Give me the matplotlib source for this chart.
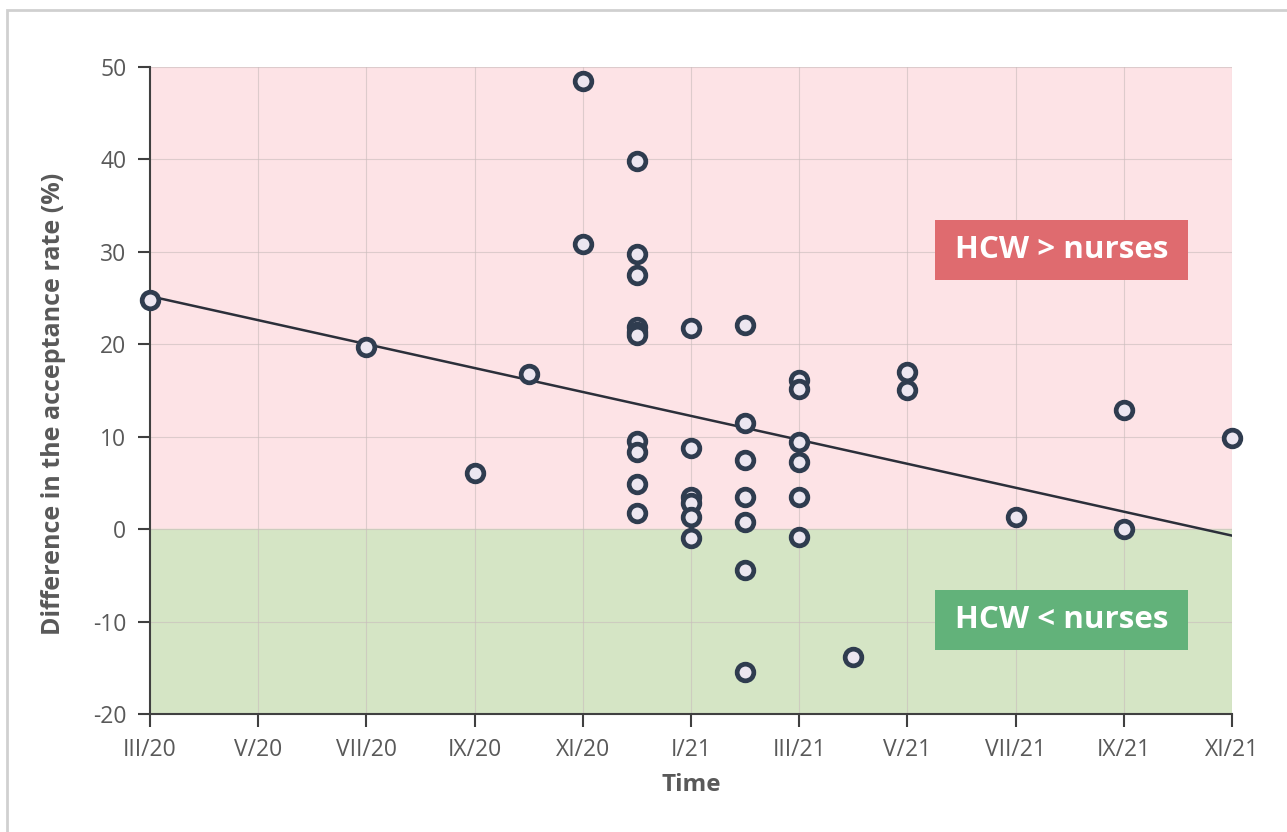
import numpy as np
import matplotlib.pyplot as plt
from matplotlib.patches import Rectangle

plt.rcParams['font.family'] = ['Open Sans', 'DejaVu Sans']
plt.rcParams['axes.unicode_minus'] = False

# months counted from III/20 (0) to XI/21 (20)
month = [0, 4, 6, 7, 8, 8,
         9, 9, 9, 9, 9, 9, 9, 9, 9, 9,
         10, 10, 10, 10, 10, 10,
         11, 11, 11, 11, 11, 11, 11,
         12, 12, 12, 12, 12, 12,
         13, 14, 14, 16, 18, 18, 20]
diff = [24.8, 19.7, 6.1, 16.8, 48.5, 30.8,
        39.8, 29.8, 27.5, 21.9, 21.3, 21.0, 9.5, 8.3, 4.9, 1.7,
        21.8, 8.8, 3.5, 2.8, 1.3, -1.0,
        22.1, 11.5, 7.5, 3.5, 0.8, -4.4, -15.5,
        16.1, 15.2, 9.4, 7.3, 3.5, -0.8,
        -13.8, 17.0, 15.1, 1.3, 12.9, 0.0, 9.9]
tick_pos = [0, 2, 4, 6, 8, 10, 12, 14, 16, 18, 20]
tick_labels = ['III/20', 'V/20', 'VII/20', 'IX/20', 'XI/20', 'I/21',
               'III/21', 'V/21', 'VII/21', 'IX/21', 'XI/21']
trend_x = [0, 20]
trend_y = [25.2, -0.7]

fig = plt.figure(figsize=(12.87, 8.32), dpi=100)
ax = fig.add_axes([150 / 1287, 1 - 714 / 832, 1082 / 1287, 647 / 832])

# frame around the whole figure (only top and left edges visible)
fig.patches.append(Rectangle((7 / 1287, -0.05), 1.1, 1 - 10 / 832 + 0.05,
                             transform=fig.transFigure, fill=False,
                             edgecolor='#d0d0d0', linewidth=2))

ax.set_xlim(0, 20)
ax.set_ylim(-20, 50)
ax.axhspan(0, 50, color='#fde3e6', zorder=0)
ax.axhspan(-20, 0, color='#d5e5c5', zorder=0)

for y in range(-10, 51, 10):
    ax.axhline(y, color='#c9bcbc', linewidth=0.8, alpha=0.6, zorder=1)
for x in tick_pos[1:]:
    ax.axvline(x, color='#c9bcbc', linewidth=0.8, alpha=0.6, zorder=1)

ax.plot(trend_x, trend_y, color='#2b2f3a', linewidth=1.8, zorder=2)
ax.plot(month, diff, linestyle='none', marker='o', markersize=12,
        markerfacecolor='#ece6f0', markeredgecolor='#2f3c4f',
        markeredgewidth=3.4, zorder=3, clip_on=False)

# label boxes
ax.add_patch(Rectangle((14.51, 26.95), 4.68, 6.5, facecolor='#df6b6f',
                       edgecolor='none', zorder=4))
ax.add_patch(Rectangle((14.51, -13.1), 4.68, 6.5, facecolor='#62b27a',
                       edgecolor='none', zorder=4))
ax.text(16.85, 30.2, 'HCW > nurses', color='white', fontsize=22.5,
        fontweight='bold', ha='center', va='center', zorder=5)
ax.text(16.85, -9.85, 'HCW < nurses', color='white', fontsize=22.5,
        fontweight='bold', ha='center', va='center', zorder=5)

ax.set_xticks(tick_pos)
ax.set_xticklabels(tick_labels)
ax.set_yticks(range(-20, 51, 10))
ax.tick_params(axis='both', direction='out', length=9, width=1.5,
               color='#404040', labelsize=16.5, labelcolor='#595959', pad=8)
for s in ['top', 'right']:
    ax.spines[s].set_visible(False)
for s in ['left', 'bottom']:
    ax.spines[s].set_color('#404040')
    ax.spines[s].set_linewidth(1.5)

ax.set_xlabel('Time', fontsize=17.5, fontweight='bold', color='#595959', labelpad=8)
ax.set_ylabel('Difference in the acceptance rate (%)', fontsize=18,
              fontweight='bold', color='#595959')
ax.yaxis.set_label_coords(-0.078, 0.48)

fig.savefig('out.png', dpi=100)
